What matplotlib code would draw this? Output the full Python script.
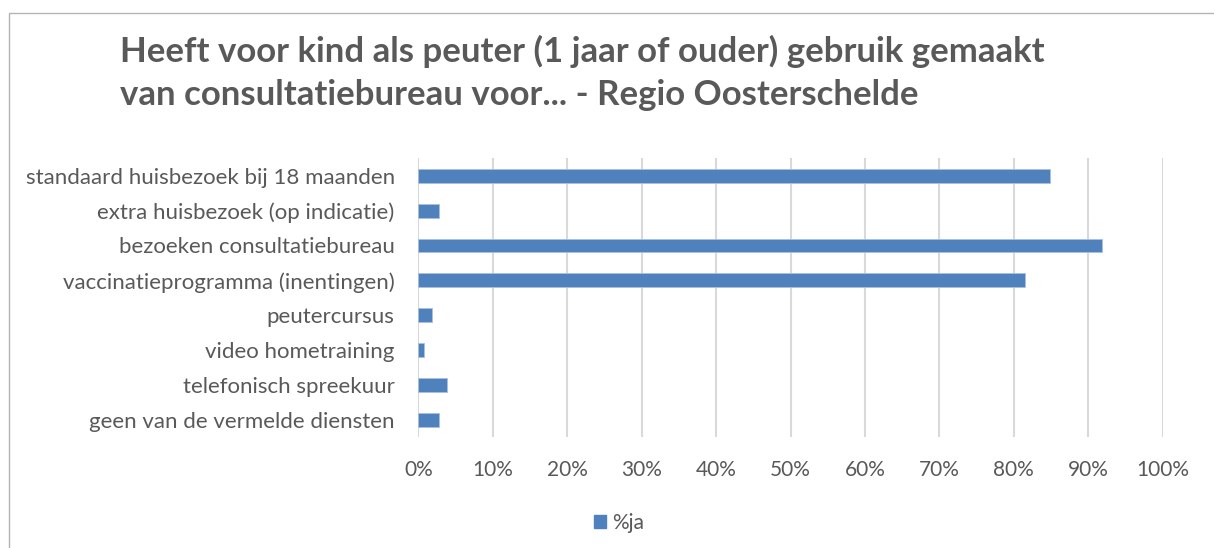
import matplotlib.pyplot as plt
from matplotlib.patches import Patch, Rectangle
from matplotlib.ticker import PercentFormatter

# Data
categories = [
    'standaard huisbezoek bij 18 maanden',
    'extra huisbezoek (op indicatie)',
    'bezoeken consultatiebureau',
    'vaccinatieprogramma (inentingen)',
    'peutercursus',
    'video hometraining',
    'telefonisch spreekuur',
    'geen van de vermelde diensten',
]
pct_ja = [84.9, 2.8, 91.9, 81.5, 1.8, 0.7, 3.9, 2.8]
series_name = '%ja'
title_lines = ['Heeft voor kind als peuter (1 jaar of ouder) gebruik gemaakt',
               'van consultatiebureau voor... - Regio Oosterschelde']

text_color = '#595959'
bar_color = '#4f81bd'
grid_color = '#d9d9d9'

plt.rcParams['font.family'] = ['Lato', 'DejaVu Sans']

W, H = 1214, 548
fig = plt.figure(figsize=(W / 100, H / 100), dpi=100)

# light gray chart border (cropped on the right and bottom)
fig.patches.append(Rectangle((9 / W, -0.1), 1.2, (H - 13) / H + 0.1,
                             transform=fig.transFigure, fill=False,
                             ec='#b3b3b3', lw=1))

# title, two lines
fig.text(120 / W, 1 - 62 / H, title_lines[0], fontsize=25, fontweight='bold',
         color=text_color, va='baseline')
fig.text(120 / W, 1 - 105 / H, title_lines[1], fontsize=25, fontweight='bold',
         color=text_color, va='baseline')

ax = fig.add_axes([418.3 / W, 1 - 437.3 / H, (1162.7 - 418.3) / W, (437.3 - 158.3) / H])

y = list(range(len(categories)))
ax.barh(y, pct_ja, height=0.4, color=bar_color, edgecolor='#a9c0e0',
        linewidth=0.6, zorder=3)

ax.set_xlim(0, 100)
ax.set_ylim(len(categories) - 0.5, -0.5)
ax.set_xticks(range(0, 101, 10))
ax.xaxis.set_major_formatter(PercentFormatter(decimals=0))
ax.set_yticks(y)
ax.set_yticklabels(categories)

ax.grid(axis='x', color=grid_color, linewidth=1.5, zorder=0)
for s in ax.spines.values():
    s.set_visible(False)
ax.tick_params(axis='both', length=0, colors=text_color)
ax.tick_params(axis='x', pad=16, labelsize=15)
ax.tick_params(axis='y', pad=17, labelsize=16)

# legend below the plot
handle = Patch(facecolor=bar_color, edgecolor=bar_color)
fig.legend([handle], [series_name], loc='center', bbox_to_anchor=(619 / W, 1 - 523 / H),
           frameon=False, fontsize=15, labelcolor=text_color,
           handlelength=0.6, handleheight=0.6, handletextpad=0.3)

plt.savefig('out.png', dpi=100)
